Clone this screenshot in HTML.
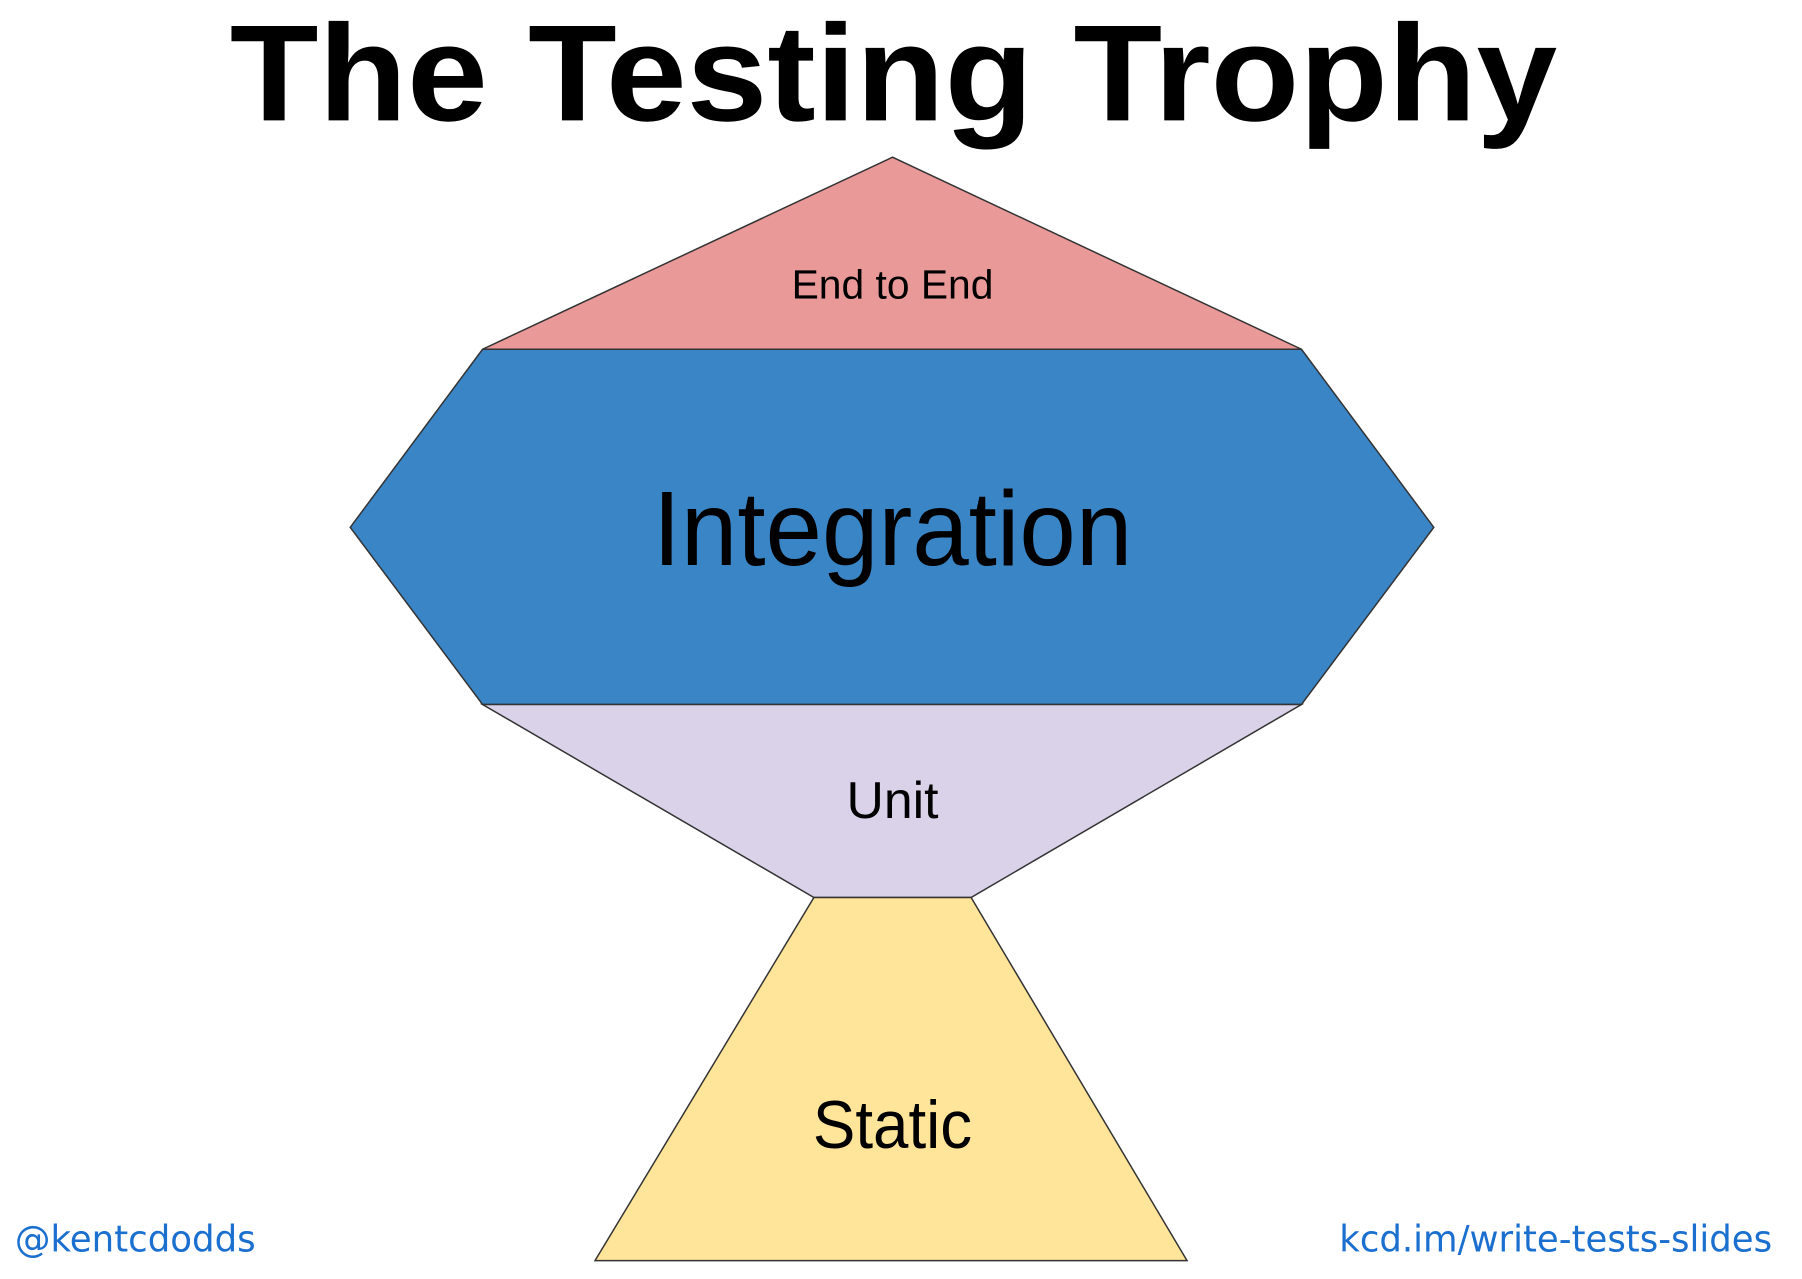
<!DOCTYPE html>
<html><head><meta charset="utf-8"><style>
html,body{margin:0;padding:0;background:#fff;}
svg{display:block;}
</style></head><body>
<svg width="1802" height="1279" viewBox="0 0 1802 1279" xmlns="http://www.w3.org/2000/svg">
<g transform="scale(0.995)">
<text x="898" y="121" text-anchor="middle" font-family="Liberation Sans, sans-serif" font-weight="bold" font-size="138" textLength="1334" lengthAdjust="spacingAndGlyphs" fill="#000">The Testing Trophy</text>
<polygon points="897,158 1308,351 485,351" fill="#ea9999" stroke="#333" stroke-width="1.5"/>
<polygon points="485,351 1308,351 1441,530 1308,708 485,708 352,530" fill="#3a85c6" stroke="#333" stroke-width="1.5"/>
<polygon points="485,708 1308,708 976,902 818,902" fill="#d9d2e9" stroke="#333" stroke-width="1.5"/>
<polygon points="818,902 976,902 1193,1267 598,1267" fill="#ffe599" stroke="#333" stroke-width="1.5"/>
<text x="897" y="300" text-anchor="middle" font-family="Liberation Sans, sans-serif" font-size="41" fill="#000">End to End</text>
<text x="897" y="568" text-anchor="middle" font-family="Liberation Sans, sans-serif" font-size="106" textLength="482" lengthAdjust="spacingAndGlyphs" fill="#000">Integration</text>
<text x="897" y="822" text-anchor="middle" font-family="Liberation Sans, sans-serif" font-size="52" fill="#000">Unit</text>
<text x="897" y="1154" text-anchor="middle" font-family="Liberation Sans, sans-serif" font-size="68" textLength="160" lengthAdjust="spacingAndGlyphs" fill="#000">Static</text>
<text x="15" y="1258" font-family="DejaVu Sans, sans-serif" font-size="37" textLength="242" lengthAdjust="spacingAndGlyphs" fill="#1a6fcf">@kentcdodds</text>
<text x="1781" y="1258" text-anchor="end" font-family="DejaVu Sans, sans-serif" font-size="37" textLength="435" lengthAdjust="spacingAndGlyphs" fill="#1a6fcf">kcd.im/write-tests-slides</text>
</g>
</svg>
</body></html>
